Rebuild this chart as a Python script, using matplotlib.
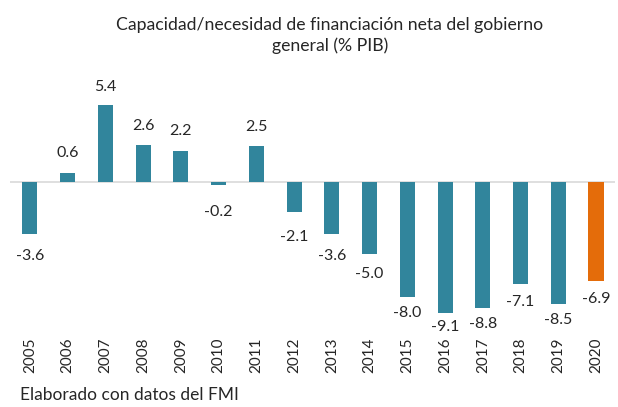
import matplotlib
matplotlib.use("Agg")
import matplotlib.pyplot as plt

years = ["2005", "2006", "2007", "2008", "2009", "2010", "2011", "2012",
         "2013", "2014", "2015", "2016", "2017", "2018", "2019", "2020"]
values = [-3.6, 0.6, 5.4, 2.6, 2.2, -0.2, 2.5, -2.1,
          -3.6, -5.0, -8.0, -9.1, -8.8, -7.1, -8.5, -6.9]
labels = ["-3.6", "0.6", "5.4", "2.6", "2.2", "-0.2", "2.5", "-2.1",
          "-3.6", "-5.0", "-8.0", "-9.1", "-8.8", "-7.1", "-8.5", "-6.9"]

teal = "#31859C"
orange = "#E46C0A"
colors = [teal] * (len(values) - 1) + [orange]

plt.rcParams['font.family'] = ['Lato', 'DejaVu Sans']

fig = plt.figure(figsize=(6.18, 4.07), dpi=100)
ax = fig.add_axes([0.016, 0.214, 0.979, 0.589])

x = list(range(len(values)))
ax.bar(x, values, width=0.4, color=colors, zorder=2)
ax.axhline(0, color="#D9D9D9", linewidth=1.2, zorder=1)

for xi, v, lab in zip(x, values, labels):
    if v >= 0:
        off = 21 - 0.7 * v
    else:
        off = -(27.5 - 1.4 * abs(v))
    ax.annotate(lab, (xi, v), xytext=(0, off), textcoords="offset pixels",
                ha="center", va="center", fontsize=11.5, color="#262626")

ax.set_xlim(-0.53, 15.5)
ax.set_ylim(-9.6, 7.1)
ax.set_xticks(x)
ax.set_xticklabels(years, rotation=90, fontsize=11, color="#262626")
ax.tick_params(axis="x", length=0, pad=12.5)
ax.set_yticks([])
for s in ax.spines.values():
    s.set_visible(False)

fig.text(0.534, 0.958, "Capacidad/necesidad de financiación neta del gobierno\ngeneral (% PIB)",
         ha="center", va="top", fontsize=12.7, color="#262626", linespacing=1.3)
fig.text(0.032, 0.03, "Elaborado con datos del FMI", ha="left", va="center",
         fontsize=12.5, color="#262626")

fig.savefig("out.png", dpi=100)
